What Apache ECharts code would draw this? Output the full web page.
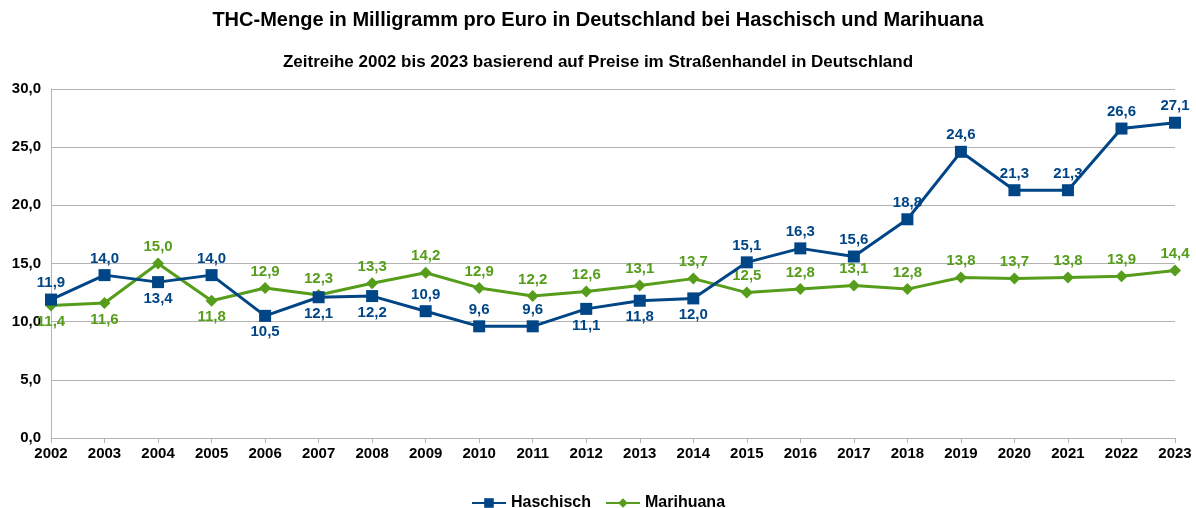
<!DOCTYPE html>
<html>
<head>
<meta charset="utf-8">
<script src="https://cdn.jsdelivr.net/npm/echarts@6/dist/echarts.min.js"></script>
<style>
  html, body { margin: 0; padding: 0; background: #fff; }
  #chart { width: 1196px; height: 508px; }
</style>
</head>
<body>
<div id="chart"></div>
<script>
// Daten
var years = ["2002", "2003", "2004", "2005", "2006", "2007", "2008", "2009", "2010", "2011", "2012",
             "2013", "2014", "2015", "2016", "2017", "2018", "2019", "2020", "2021", "2022", "2023"];
var haschisch = [11.9, 14.0, 13.4, 14.0, 10.5, 12.1, 12.2, 10.9, 9.6, 9.6, 11.1,
                 11.8, 12.0, 15.1, 16.3, 15.6, 18.8, 24.6, 21.3, 21.3, 26.6, 27.1];
var marihuana = [11.4, 11.6, 15.0, 11.8, 12.9, 12.3, 13.3, 14.2, 12.9, 12.2, 12.6,
                 13.1, 13.7, 12.5, 12.8, 13.1, 12.8, 13.8, 13.7, 13.8, 13.9, 14.4];

// Beschriftung oben/unten je Punkt
var haschLabelPos = ["top", "top", "bottom", "top", "bottom", "bottom", "bottom", "top", "top", "top", "bottom",
                     "bottom", "bottom", "top", "top", "top", "top", "top", "top", "top", "top", "top"];
var mariLabelPos = ["bottom", "bottom", "top", "bottom", "top", "top", "top", "top", "top", "top", "top",
                    "top", "top", "top", "top", "top", "top", "top", "top", "top", "top", "top"];

var FONT = "Liberation Sans";
var BLUE = "#004586";
var GREEN = "#579d1c";

function fmt(v) {
    return v.toFixed(1).replace(".", ",");
}

function withLabels(values, positions) {
    return values.map(function (v, i) {
        return { value: v, label: { position: positions[i] } };
    });
}

var chart = echarts.init(document.getElementById("chart"));

var option = {
    animation: false,
    title: [
        {
            text: "THC-Menge in Milligramm pro Euro in Deutschland bei Haschisch und Marihuana",
            left: "center",
            top: 5,
            textStyle: { fontFamily: FONT, fontSize: 20, fontWeight: "bold", color: "#000" }
        },
        {
            text: "Zeitreihe 2002 bis 2023 basierend auf Preise im Straßenhandel in Deutschland",
            left: "center",
            top: 49,
            textStyle: { fontFamily: FONT, fontSize: 17, fontWeight: "bold", color: "#000" }
        }
    ],
    legend: {
        top: 490,
        left: "center",
        itemWidth: 34,
        itemHeight: 12,
        itemGap: 14,
        textStyle: { fontFamily: FONT, fontSize: 16, fontWeight: "bold", color: "#000" },
        data: ["Haschisch", "Marihuana"]
    },
    grid: {
        left: 51,
        right: 21,
        top: 89,
        bottom: 70
    },
    xAxis: {
        type: "category",
        data: years,
        boundaryGap: false,
        axisLine: { lineStyle: { color: "#b3b3b3", width: 1 } },
        axisTick: { show: true, length: 5, lineStyle: { color: "#b3b3b3" } },
        axisLabel: { fontFamily: FONT, fontSize: 15, fontWeight: "bold", color: "#000", margin: 8 },
        splitLine: { show: false }
    },
    yAxis: {
        type: "value",
        min: 0,
        max: 30,
        interval: 5,
        axisLine: { show: true, lineStyle: { color: "#b3b3b3" } },
        axisTick: { show: false },
        axisLabel: {
            fontFamily: FONT, fontSize: 15, fontWeight: "bold", color: "#000", margin: 10,
            formatter: function (v) { return fmt(v); }
        },
        splitLine: { lineStyle: { color: "#b3b3b3", width: 1 } }
    },
    series: [
        {
            name: "Haschisch",
            type: "line",
            data: withLabels(haschisch, haschLabelPos),
            symbol: "rect",
            symbolSize: 12,
            lineStyle: { color: BLUE, width: 3 },
            itemStyle: { color: BLUE },
            label: {
                show: true,
                distance: 3,
                fontFamily: FONT, fontSize: 15, fontWeight: "bold", color: BLUE,
                formatter: function (p) { return fmt(p.value); }
            },
            z: 3
        },
        {
            name: "Marihuana",
            type: "line",
            data: withLabels(marihuana, mariLabelPos),
            symbol: "diamond",
            symbolSize: 12,
            lineStyle: { color: GREEN, width: 3 },
            itemStyle: { color: GREEN },
            label: {
                show: true,
                distance: 3,
                fontFamily: FONT, fontSize: 15, fontWeight: "bold", color: GREEN,
                formatter: function (p) { return fmt(p.value); }
            },
            z: 2
        }
    ]
};

chart.setOption(option);
</script>
</body>
</html>
